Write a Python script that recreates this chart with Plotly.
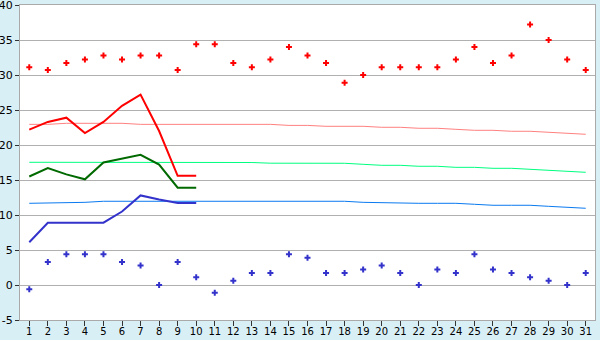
import plotly.graph_objects as go

days = list(range(1, 32))
tick_labels = [str(d) for d in days]
y_tick_vals = [-5, 0, 5, 10, 15, 20, 25, 30, 35, 40]
y_tick_labels = ["-5", "0", "5", "10", "15", "20", "25", "30", "35", "40"]

max_temps = [31.1, 30.7, 31.7, 32.2, 32.8, 32.2, 32.8, 32.8, 30.7, 34.4,
             34.4, 31.7, 31.1, 32.2, 34.0, 32.8, 31.7, 28.9, 30.0, 31.1,
             31.1, 31.1, 31.1, 32.2, 34.0, 31.7, 32.8, 37.2, 35.0, 32.2, 30.7]
min_temps = [-0.6, 3.3, 4.4, 4.4, 4.4, 3.3, 2.8, 0.0, 3.3, 1.1,
             -1.1, 0.6, 1.7, 1.7, 4.4, 3.9, 1.7, 1.7, 2.2, 2.8,
             1.7, 0.0, 2.2, 1.7, 4.4, 2.2, 1.7, 1.1, 0.6, 0.0, 1.7]

line_days = list(range(1, 11))
max_line = [22.2, 23.3, 23.9, 21.7, 23.3, 25.6, 27.2, 22.0, 15.6, 15.6]
mean_line = [15.5, 16.7, 15.8, 15.1, 17.5, 18.0, 18.6, 17.2, 13.9, 13.9]
min_line = [6.1, 8.9, 8.9, 8.9, 8.9, 10.5, 12.8, 12.2, 11.7, 11.7]

normal_max = [22.95, 22.95, 23.1, 23.1, 23.1, 23.1, 22.95, 22.95, 22.95, 22.95,
              22.95, 22.95, 22.95, 22.95, 22.8, 22.8, 22.67, 22.67, 22.67, 22.53,
              22.53, 22.39, 22.39, 22.24, 22.1, 22.1, 21.96, 21.96, 21.81, 21.67, 21.53]
normal_mean = [17.53, 17.53, 17.53, 17.6, 17.6, 17.6, 17.6, 17.6, 17.6, 17.6,
               17.55, 17.53, 17.5, 17.4, 17.39, 17.39, 17.39, 17.39, 17.24, 17.1,
               17.1, 16.96, 16.96, 16.81, 16.81, 16.67, 16.67, 16.53, 16.39, 16.3, 16.1]
normal_min = [11.67, 11.7, 11.81, 11.81, 11.96, 11.96, 11.96, 11.96, 11.96, 11.96,
              11.96, 11.96, 11.96, 11.96, 11.96, 11.96, 11.96, 11.96, 11.81, 11.75,
              11.67, 11.67, 11.67, 11.67, 11.53, 11.39, 11.39, 11.39, 11.24, 11.1, 10.96]

fig = go.Figure()

fig.add_trace(go.Scatter(x=days, y=normal_max, mode="lines",
                         line=dict(color="#ff8080", width=1)))
fig.add_trace(go.Scatter(x=days, y=normal_mean, mode="lines",
                         line=dict(color="#00ff80", width=1)))
fig.add_trace(go.Scatter(x=days, y=normal_min, mode="lines",
                         line=dict(color="#0a7af0", width=1)))

fig.add_trace(go.Scatter(x=line_days, y=max_line, mode="lines",
                         line=dict(color="#ff0000", width=2)))
fig.add_trace(go.Scatter(x=line_days, y=mean_line, mode="lines",
                         line=dict(color="#006a00", width=2)))
fig.add_trace(go.Scatter(x=line_days, y=min_line, mode="lines",
                         line=dict(color="#3333cc", width=2)))

fig.add_trace(go.Scatter(x=days, y=max_temps, mode="markers",
                         marker=dict(color="#ff0000", size=5, symbol="cross",
                                     line=dict(width=0))))
fig.add_trace(go.Scatter(x=days, y=min_temps, mode="markers",
                         marker=dict(color="#3333cc", size=5, symbol="cross",
                                     line=dict(width=0))))

fig.update_layout(
    width=600, height=340,
    margin=dict(l=20, r=5, t=5, b=20, autoexpand=False),
    paper_bgcolor="#d9eff6",
    plot_bgcolor="#ffffff",
    showlegend=False,
    font=dict(family="DejaVu Sans", size=11, color="#000000"),
    xaxis=dict(range=[0.5, 31.5], tickmode="array", tickvals=days,
               ticktext=tick_labels, showgrid=False, zeroline=False,
               showline=True, linecolor="#aaaaaa", linewidth=1, mirror=True,
               ticks="outside", ticklen=5, tickcolor="#333333",
               tickfont=dict(size=10), automargin=False,
               ticklabelstandoff=-3),
    yaxis=dict(range=[-5, 40], tickmode="array", tickvals=y_tick_vals,
               ticktext=y_tick_labels, showgrid=True,
               gridcolor="#b0b0b0", gridwidth=1, zeroline=False,
               showline=True, linecolor="#aaaaaa", linewidth=1, mirror=True,
               ticks="outside", ticklen=4, tickcolor="#333333",
               tickfont=dict(size=11), automargin=False,
               ticklabeloverflow="allow"),
)

fig.write_html("out.html")
